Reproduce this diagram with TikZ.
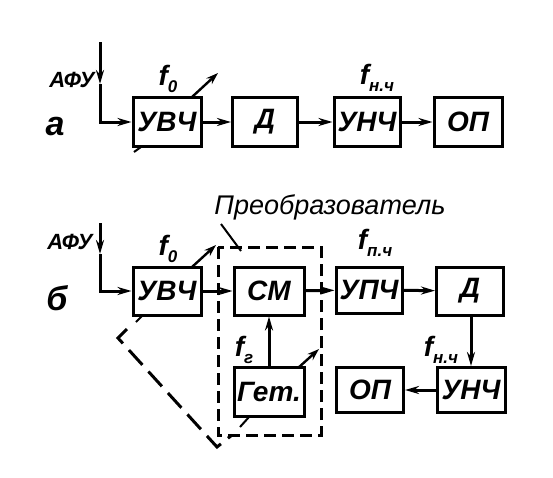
\documentclass[tikz,border=0pt]{standalone}
\usepackage{fontspec}
\setmainfont{Liberation Sans}
\usetikzlibrary{arrows.meta}
\newcommand{\fsub}[1]{\textit{f}\raisebox{-0.45ex}{\fontsize{17}{17}\selectfont\bfseries\itshape #1}}
\tikzset{
  blk/.style={draw, line width=3pt, inner sep=0pt, minimum width=68pt, minimum height=49pt,
    font=\fontsize{28}{28}\selectfont\bfseries\itshape},
  arr/.style={line width=3pt, -{Stealth[length=14pt,width=8pt]}},
  tune/.style={line width=2.4pt, -{Stealth[length=12pt,width=8pt]}},
  lbl/.style={inner sep=0pt, font=\fontsize{28}{28}\selectfont\bfseries\itshape},
  conv/.style={inner sep=0pt, font=\fontsize{27}{27}\selectfont\itshape},
  afu/.style={inner sep=0pt, font=\fontsize{22}{22}\selectfont\bfseries\itshape},
  part/.style={inner sep=0pt, font=\fontsize{34}{34}\selectfont\bfseries\itshape},
  dbox/.style={line width=3pt, dash pattern=on 12pt off 6pt},
  gang/.style={line width=3pt, dash pattern=on 20pt off 9pt},
  thin/.style={line width=2pt}
}
\begin{document}
\begin{tikzpicture}[x=1pt,y=-1pt]
\useasboundingbox (0,0) rectangle (553,477);
% ---------- part a ----------
\node[part] (la) at (55,127) {а};
\node[blk] (uvcA) at (167,122) {УВЧ};
\node[blk, minimum width=65pt] (dA) at (265,122) {Д};
\node[blk, minimum width=66pt] (unchA) at (367,122) {УНЧ};
\node[blk] (opA) at (468,122) {ОП};
\node[afu] (afuA) at (72,80) {АФУ};
\node[lbl] (f0A) at (168,79) {\fsub{0}};
\node[lbl] (fnchA) at (377,78) {\fsub{н.ч}};
\coordinate (antA) at (100,42);
\coordinate (antAm) at (100,84);
\draw[arr] (antA) -- (antAm);
\draw[arr] (antAm) |- (uvcA.west);
\draw[arr] (uvcA) -- (dA);
\draw[arr] (dA) -- (unchA);
\draw[arr] (unchA) -- (opA);
\coordinate (tA1) at (192,97);
\coordinate (tA2) at (218,73);
\draw[tune] (tA1) -- (tA2);
\coordinate (kA1) at (141,147);
\coordinate (kA2) at (134,152);
\draw[thin] (kA1) -- (kA2);
% ---------- part b ----------
\node[part] (lb) at (57,298) {б};
\node[conv] (conv) at (330,207) {Преобразователь};
\node[blk, minimum height=48pt] (uvcB) at (167,291) {УВЧ};
\node[blk, minimum width=70pt, minimum height=48pt] (smB) at (269,291) {СМ};
\node[blk, minimum width=66pt, minimum height=46pt] (upchB) at (369,290) {УПЧ};
\node[blk, minimum width=67pt, minimum height=48pt] (dB) at (470,291) {Д};
\node[blk, minimum width=70pt] (getB) at (269,392) {Гет.};
\node[blk, minimum height=45pt] (unchB) at (471,390) {УНЧ};
\node[blk, minimum width=67pt, minimum height=45pt] (opB) at (370,390) {ОП};
\node[afu] (afuB) at (70,242) {АФУ};
\node[lbl] (f0B) at (168,249) {\fsub{0}};
\node[lbl] (fpchB) at (375,243) {\fsub{п.ч}};
\node[lbl] (fgB) at (244,350) {\fsub{г}};
\node[lbl] (fnchB) at (441,350) {\fsub{н.ч}};
\coordinate (antB) at (100,223);
\coordinate (antBm) at (100,254);
\draw[arr] (antB) -- (antBm);
\draw[arr] (antBm) |- (uvcB.west);
\draw[arr] (uvcB) -- (smB);
\draw[arr] (smB) -- (upchB);
\draw[arr] (upchB) -- (dB);
\draw[arr] (dB.south -| unchB.north) -- (unchB.north);
\draw[arr] (unchB) -- (opB);
\draw[arr] (getB) -- (smB);
% tuning arrows
\coordinate (tB1) at (192,267);
\coordinate (tB2) at (216,245);
\draw[tune] (tB1) -- (tB2);
\coordinate (tG1) at (298,368);
\coordinate (tG2) at (319,349);
\draw[tune] (tG1) -- (tG2);
% gang ticks
\coordinate (kB1) at (143,315);
\coordinate (kB2) at (136,322);
\draw[thin] (kB1) -- (kB2);
\coordinate (kG1) at (249,417);
\coordinate (kG2) at (240,427);
\draw[thin] (kG1) -- (kG2);
% converter dashed box
\coordinate (cbTL) at (218,247);
\coordinate (cbBR) at (321,435);
\draw[dbox] (cbTL) rectangle (cbBR);
\coordinate (lead1) at (221,224);
\coordinate (lead2) at (241,251);
\draw[thin] (lead1) -- (lead2);
% ganging line
\coordinate (g0) at (127,329);
\coordinate (g1) at (118,338);
\coordinate (g2) at (217,447);
\coordinate (g3) at (232,435);
\draw[gang] (g0) -- (g1) -- (g2) -- (g3);
\end{tikzpicture}
\end{document}
